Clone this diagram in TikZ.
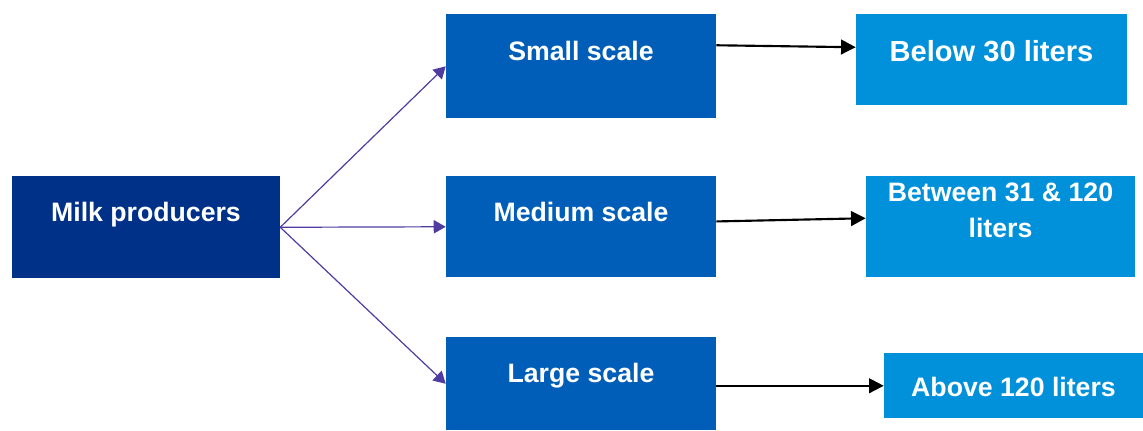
\documentclass[tikz,border=0pt]{standalone}
\usepackage{fontspec}
\setmainfont{Liberation Sans}
\usetikzlibrary{arrows.meta}

\definecolor{darkblue}{RGB}{0,49,137}
\definecolor{midblue}{RGB}{0,94,184}
\definecolor{lightblue}{RGB}{0,145,218}
\definecolor{arrowpurple}{RGB}{80,60,160}

\begin{document}
\begin{tikzpicture}[x=0.75pt,y=-0.75pt,
   box/.style={text=white,inner sep=0pt,anchor=north,
      font=\fontsize{20}{25.5}\selectfont\bfseries},
   producer/.style={box,fill=darkblue},
   scalebox/.style={box,fill=midblue,minimum width=202.5pt},
   amountbox/.style={box,fill=lightblue},
   split/.style={draw=arrowpurple,line width=0.9pt,
      -{Triangle[length=9pt,width=10pt]},arrowpurple},
   volume/.style={draw=black,line width=1.6pt,
      -{Triangle[length=11pt,width=11pt]}}]
\useasboundingbox (0,0) rectangle (1143,430);

\node[producer,minimum width=201pt,text height=33.75pt,text depth=42.75pt]
   (milk) at (146,176) {Milk producers};

\node[scalebox,text height=34.5pt,text depth=43.5pt] (small) at (581,14) {Small scale};
\node[scalebox,text height=33.75pt,text depth=42pt] (medium) at (581,176) {Medium scale};
\node[scalebox,text height=33.75pt,text depth=36pt] (large) at (581,337) {Large scale};

\node[amountbox,minimum width=203.25pt,text height=35.25pt,text depth=33pt,
   font=\fontsize{21.8}{26}\selectfont\bfseries]
   (below) at (991.5,14) {Below 30 liters};
\node[amountbox,minimum width=201.75pt,text height=45.75pt,text depth=30pt,align=center]
   (between) at (1000.5,176) {Between 31 \& 120\\[1.5pt]liters};
\node[amountbox,minimum width=194.25pt,text height=32.25pt,text depth=16.5pt]
   (above) at (1013.5,353) {Above 120 liters};

\draw[split] (milk.east) -- (small.west);
\draw[split] (milk.east) -- (medium.west);
\draw[split] (milk.east) -- (large.west);

\draw[volume] ([yshift=15.75pt]small.east) -- ([yshift=9.4pt]below.west);
\draw[volume] ([yshift=4pt]medium.east) -- ([yshift=6.4pt]between.west);
\draw[volume] (large.east |- above.west) -- (above.west);
\end{tikzpicture}
\end{document}
